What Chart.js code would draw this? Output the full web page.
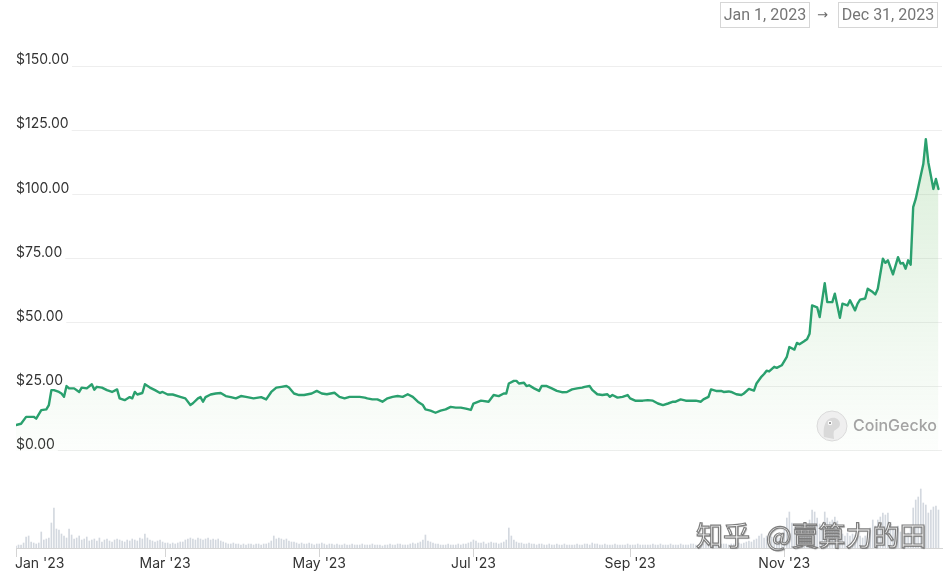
<!DOCTYPE html>
<html>
<head>
<meta charset="utf-8">
<script src="https://cdn.jsdelivr.net/npm/chart.js@4.4.1/dist/chart.umd.min.js"></script>
<style>
  html, body { margin: 0; padding: 0; background: #fff; }
  #wrap { position: relative; width: 950px; height: 574px; overflow: hidden; }
  #chart { position: absolute; left: 0; top: 0; }
  .dbox { position: absolute; top: 2px; height: 26px; border: 1px solid #d6d6d6; box-sizing: border-box; white-space: nowrap;
          font: 16px Roboto, "Noto Sans", sans-serif; color: #757575; line-height: 24px; text-align: center; }
  #arrow { position: absolute; left: 817px; top: 3px; font: 13px "DejaVu Sans", sans-serif; color: #666; line-height: 24px; }
  #cg { position: absolute; left: 816px; top: 410px; width: 32px; height: 32px; }
  #cgtext { position: absolute; left: 853px; top: 414px; font: 500 16px Inter, sans-serif; color: #a3a3a3; line-height: 22px; }
  .zh { position: absolute; top: 520px; font: 27px "Noto Sans CJK SC", sans-serif; line-height: 30px; color: #fbfbfb;
        -webkit-text-stroke: 1.2px #7d7d7d; text-shadow: 1px 1px 1px rgba(0,0,0,0.3); white-space: nowrap; }
</style>
</head>
<body>
<div id="wrap">
  <canvas id="chart" width="950" height="574"></canvas>
  <div class="dbox" style="left:720px;width:90px;">Jan 1, 2023</div>
  <div id="arrow">→</div>
  <div class="dbox" style="left:838px;width:100px;">Dec 31, 2023</div>
  <svg id="cg" viewBox="0 0 32 32">
    <circle cx="16" cy="16" r="15" fill="#efefef" stroke="#dadada" stroke-width="1"/>
    <path d="M8 27 C7 20 8 12 13 9 C18 6 24 9 24 14 C24 18 20 19 18 21 C17 24 18 27 18 29 Z" fill="#d9d9d9"/>
    <circle cx="14" cy="13" r="2.2" fill="#fff"/>
    <circle cx="14" cy="13" r="1.1" fill="#8a8a8a"/>
  </svg>
  <div id="cgtext">CoinGecko</div>
  <div class="zh" style="left:696px;">知乎</div>
  <div class="zh" style="left:766px;">@賣算力的田</div>
</div>
<script>
// ---- Data (day of year 2023, 0 = Jan 1) ----
const priceDays = [0,2,4,7,8,10,12,13,14,15,17,18,19,20,21,23,25,26,28,30,31,32,34,36,38,40,41,43,45,46,47,48,50,51,53,55,57,58,60,62,65,67,69,70,72,73,74,75,77,79,81,83,85,87,89,91,94,97,99,101,103,105,107,108,110,112,114,116,117,119,121,123,126,128,130,132,134,136,138,139,141,143,145,147,149,151,153,155,157,159,161,162,164,166,168,170,172,174,176,178,180,181,184,187,189,191,193,194,195,197,198,199,201,202,203,205,207,208,210,212,214,216,218,220,222,224,225,227,228,230,232,234,235,236,238,240,242,243,245,248,250,252,254,256,258,260,261,263,265,267,269,271,272,274,275,277,279,280,282,283,285,287,288,290,292,293,295,296,297,298,300,301,303,305,306,308,309,310,312,313,314,315,317,318,320,321,323,324,326,327,329,330,332,333,334,336,337,339,340,341,343,344,345,347,349,350,351,352,353,354,355,356,358,359,360,361,363,364,365];
const prices = [10.1,10.6,13.3,13.3,12.6,15.9,16.2,17.9,23.7,23.7,23.0,22.4,21.1,25.3,24.4,24.4,23.0,24.7,24.4,26.0,23.9,25.0,24.7,23.7,23.0,24.0,20.5,19.8,21.0,20.5,23.0,22.0,22.6,26.0,24.7,23.7,22.6,23.0,22.0,22.0,21.1,20.5,17.9,18.6,20.5,21.0,19.2,21.0,22.0,22.4,22.6,21.4,21.0,20.5,21.4,21.1,20.5,21.0,20.1,23.0,24.7,25.0,25.3,24.7,22.4,21.8,21.8,22.2,22.4,23.4,22.4,22.1,22.7,21.1,20.5,21.1,21.1,21.1,20.8,20.5,20.1,20.1,19.2,20.5,21.1,21.4,21.1,22.1,21.1,19.2,17.9,16.2,15.7,14.9,15.7,16.2,17.2,16.9,16.9,16.5,16.0,18.5,19.6,19.2,21.8,21.4,22.4,22.4,26.3,27.3,27.3,26.3,26.6,25.3,25.6,24.4,23.4,25.3,25.3,24.4,23.4,22.9,23.0,24.0,24.4,24.7,25.0,25.3,23.8,22.1,21.8,22.1,21.1,21.8,20.8,21.1,21.8,20.5,19.6,19.6,19.8,19.6,18.5,17.9,18.5,19.2,19.2,20.1,19.6,19.6,19.6,19.2,20.1,21.1,24.0,23.4,23.4,23.0,23.2,23.0,22.1,21.8,22.4,24.2,23.5,26.3,29.0,30.0,31.3,31.0,32.8,32.4,33.4,36.7,40.5,39.5,42.1,41.6,42.9,43.5,45.7,56.7,56.0,52.2,65.4,58.0,58.0,61.3,51.9,57.4,56.7,58.7,54.8,57.4,59.0,59.4,63.2,61.9,61.0,63.2,74.9,73.3,74.3,68.8,75.5,73.0,73.3,71.0,74.3,72.6,95.0,98.2,107.3,111.8,121.5,112.4,102.1,106.0,102.1];
// daily volume (billion USD), day 0..365
const volumes = [
0.2,0.3,0.3,0.5,1.1,1.2,0.6,0.5,0.4,0.5,
1.6,0.8,0.9,1.0,2.5,4.0,1.9,1.8,1.4,1.2,
1.0,1.9,1.3,0.9,1.0,1.2,0.8,0.9,1.1,0.7,
0.8,0.9,0.7,1.0,0.6,0.8,0.9,0.7,0.6,0.8,
0.9,0.8,0.7,0.6,0.8,0.7,0.9,0.8,0.7,1.0,
0.9,1.4,1.0,0.8,0.7,0.6,0.7,0.8,0.6,0.5,
0.5,0.4,0.5,0.4,0.5,0.6,0.6,0.8,0.9,1.0,
0.9,0.8,1.0,0.9,0.8,0.9,1.0,0.8,0.9,0.8,
0.9,0.7,0.6,0.5,0.4,0.4,0.5,0.4,0.4,0.3,
0.4,0.3,0.4,0.4,0.3,0.4,0.4,0.3,0.4,0.4,
0.5,0.7,1.2,0.9,1.0,0.9,0.8,0.9,0.7,0.6,
0.6,0.5,0.4,0.5,0.4,0.4,0.5,0.4,0.3,0.4,
0.4,0.5,0.4,0.3,0.4,0.4,0.3,0.4,0.3,0.3,
0.4,0.3,0.3,0.4,0.3,0.3,0.3,0.4,0.3,0.3,
0.3,0.4,0.3,0.3,0.3,0.2,0.3,0.3,0.4,0.3,
0.3,0.4,0.4,0.3,0.3,0.3,0.4,0.5,0.4,0.5,
0.6,0.8,1.3,0.7,0.6,0.5,0.4,0.4,0.3,0.3,
0.3,0.4,0.3,0.3,0.3,0.4,0.3,0.4,0.4,0.5,
0.6,0.8,0.7,0.5,0.5,0.6,0.4,0.5,0.6,0.5,
0.5,0.4,0.5,0.6,0.8,2.0,1.2,0.8,0.6,0.5,
0.5,0.4,0.4,0.5,0.4,0.4,0.3,0.4,0.4,0.3,
0.3,0.4,0.3,0.3,0.4,0.3,0.3,0.4,0.3,0.3,
0.3,0.3,0.4,0.3,0.3,0.4,0.4,0.3,0.5,0.4,
0.4,0.3,0.3,0.4,0.3,0.3,0.3,0.4,0.3,0.3,
0.3,0.3,0.4,0.3,0.3,0.3,0.4,0.3,0.3,0.3,
0.3,0.3,0.4,0.3,0.3,0.4,0.3,0.3,0.3,0.4,
0.3,0.3,0.3,0.4,0.3,0.3,0.3,0.4,0.4,0.3,
0.3,0.3,0.4,0.5,0.7,0.6,0.5,0.4,0.4,0.4,
0.4,0.4,0.3,0.4,0.4,0.3,0.5,0.4,0.5,0.6,
0.7,0.6,0.8,0.9,1.2,1.4,1.0,1.2,0.9,1.1,
1.0,0.9,1.0,1.4,1.8,3.0,3.6,2.5,2.0,1.6,
1.8,2.2,2.5,2.0,2.8,3.8,3.6,3.0,2.4,2.0,
3.6,3.0,2.6,2.8,3.1,2.7,1.8,1.4,1.2,1.5,
1.2,1.4,1.3,1.1,1.2,1.0,1.2,1.4,2.0,2.8,
2.2,2.8,3.1,3.5,3.3,3.5,2.5,2.0,1.8,2.2,
1.6,1.8,1.4,1.5,2.0,4.0,4.8,5.1,5.9,4.5,
4.3,3.5,3.8,4.1,4.2,3.8];
const monthTickDays = [0, 59, 120, 181, 243, 304];
const monthTickLabels = ["Jan '23", "Mar '23", "May '23", "Jul '23", "Sep '23", "Nov '23"];
const priceTicks = [0, 25, 50, 75, 100, 125, 150];

Chart.defaults.font.family = 'Inter, "Noto Sans", sans-serif';

const xLabelsPlugin = {
  id: 'xLabels',
  afterDraw(chart) {
    const sx = chart.scales.x;
    const c = chart.ctx;
    c.save();
    c.font = '14px Inter, "Noto Sans", sans-serif';
    c.fillStyle = '#333333';
    c.textBaseline = 'middle';
    c.textAlign = 'left';
    monthTickDays.forEach((d, i) => {
      const px = sx.getPixelForValue(d);
      const w = c.measureText(monthTickLabels[i]).width;
      let left = px - w / 2;
      if (left < chart.chartArea.left - 1) left = px - 1;
      c.fillText(monthTickLabels[i], left, 564);
    });
    c.restore();
  }
};

new Chart(document.getElementById('chart'), {
  type: 'line',
  data: {
    datasets: [
      {
        type: 'line',
        data: priceDays.map((d, i) => ({ x: d, y: prices[i] })),
        yAxisID: 'y',
        borderColor: '#2aa06e',
        borderWidth: 2.4,
        borderJoinStyle: 'round',
        borderCapStyle: 'round',
        pointRadius: 0,
        tension: 0,
        fill: 'origin',
        backgroundColor: (ctx) => {
          const ch = ctx.chart;
          if (!ch.chartArea) return 'rgba(124,196,120,0.1)';
          const ys = ch.scales.y;
          const g = ch.ctx.createLinearGradient(0, ys.getPixelForValue(125), 0, ys.getPixelForValue(0));
          g.addColorStop(0, 'rgba(124,196,120,0.28)');
          g.addColorStop(1, 'rgba(124,196,120,0.02)');
          return g;
        },
        order: 1
      },
      {
        type: 'bar',
        data: volumes.map((v, i) => ({ x: i, y: v })),
        yAxisID: 'yv',
        backgroundColor: '#d3d8df',
        barThickness: 1,
        order: 2
      }
    ]
  },
  options: {
    responsive: false,
    animation: false,
    devicePixelRatio: 1,
    layout: { padding: { top: 66, left: 16, right: 8, bottom: 0 } },
    plugins: { legend: { display: false }, tooltip: { enabled: false } },
    scales: {
      x: {
        type: 'linear',
        min: 0,
        max: 366.4,
        offset: false,
        afterBuildTicks: (s) => { s.ticks = monthTickDays.map(v => ({ value: v })); },
        afterFit: (s) => { s.height = 26; },
        ticks: { display: false },
        grid: { display: true, offset: false, drawOnChartArea: false, drawTicks: true, tickLength: 9, color: '#d4d4d4' },
        border: { display: true, color: '#d4d4d4' }
      },
      y: {
        type: 'linear',
        position: 'left',
        min: -37.8,
        max: 150,
        afterBuildTicks: (s) => { s.ticks = priceTicks.map(v => ({ value: v })); },
        afterFit: (s) => { s.width = 0; },
        ticks: {
          mirror: true,
          padding: 0,
          labelOffset: -6,
          color: '#333333',
          font: { size: 14 },
          showLabelBackdrop: true,
          backdropColor: '#ffffff',
          backdropPadding: { top: 1, bottom: 2, left: 0, right: 3 },
          callback: (v) => '$' + Number(v).toFixed(2)
        },
        grid: { color: '#eeeeee', drawTicks: false },
        border: { display: false }
      },
      yv: {
        type: 'linear',
        display: false,
        min: 0,
        max: 48.2
      }
    }
  },
  plugins: [xLabelsPlugin]
});
</script>
</body>
</html>
